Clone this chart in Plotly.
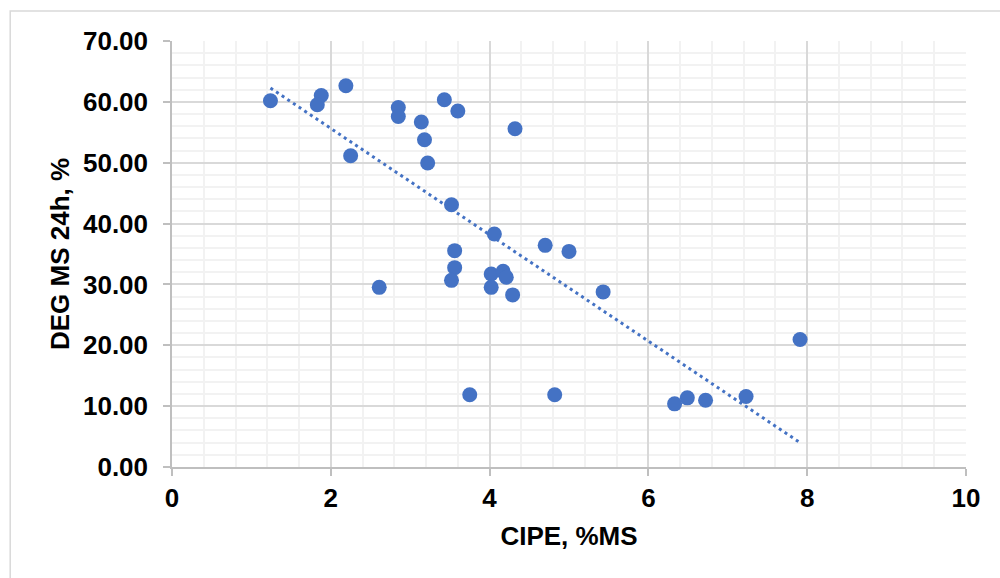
import numpy as np
import plotly.graph_objects as go

cipe = [1.24, 1.88, 1.83, 2.19, 2.25, 2.61, 2.85, 2.85, 3.14, 3.18, 3.22, 3.43,
        3.60, 3.52, 3.56, 3.56, 3.52, 3.75, 4.02, 4.02, 4.06, 4.17, 4.21, 4.29,
        4.32, 4.70, 4.82, 5.00, 5.43, 6.33, 6.49, 6.72, 7.23, 7.91]
deg = [60.18, 61.05, 59.52, 62.64, 51.15, 29.52, 59.08, 57.60, 56.68, 53.78, 49.95, 60.34,
       58.50, 43.10, 35.55, 32.76, 30.67, 11.86, 31.72, 29.52, 38.29, 32.15, 31.17, 28.28,
       55.58, 36.42, 11.86, 35.43, 28.77, 10.38, 11.36, 10.97, 11.58, 20.94]

x_ticks = [0, 2, 4, 6, 8, 10]
y_ticks = [0, 10, 20, 30, 40, 50, 60, 70]
y_tick_labels = ["0.00", "10.00", "20.00", "30.00", "40.00", "50.00", "60.00", "70.00"]

slope, intercept = np.polyfit(cipe, deg, 1)
tx = [min(cipe), max(cipe)]
ty = [slope * v + intercept for v in tx]

BLUE = "#4472C4"
FONT = "Liberation Sans, Arial, sans-serif"

fig = go.Figure()
fig.add_trace(go.Scatter(x=tx, y=ty, mode="lines",
                         line=dict(color=BLUE, width=3, dash="3px,3.8px"),
                         hoverinfo="skip", showlegend=False))
fig.add_trace(go.Scatter(x=cipe, y=deg, mode="markers",
                         marker=dict(color=BLUE, size=15, line=dict(width=0)),
                         showlegend=False))

L, R, T, B = 171.5, 33.5, 41, 110.5
W, H = 1000, 578
pw, ph = W - L - R, H - T - B

def px2paper_x(p):
    return (p - L) / pw

def px2paper_y(p):
    return (H - B - p) / ph

fig.add_shape(type="rect", xref="paper", yref="paper",
              x0=px2paper_x(9.5), x1=px2paper_x(1010), y0=px2paper_y(11), y1=px2paper_y(590),
              line=dict(color="#D9D9D9", width=1.5), fillcolor="rgba(0,0,0,0)", layer="below")

fig.update_layout(
    width=W, height=H,
    margin=dict(l=L, r=R, t=T, b=B, pad=0),
    paper_bgcolor="white", plot_bgcolor="white",
    font=dict(family=FONT, size=26, color="black"),
    xaxis=dict(
        range=[0, 10], tickvals=x_ticks, ticktext=[str(v) for v in x_ticks],
        showgrid=True, gridcolor="#D9D9D9", gridwidth=1.5,
        minor=dict(dtick=0.4, tick0=0, showgrid=True, gridcolor="#F2F2F2", gridwidth=1.5),
        showline=True, linecolor="#BFBFBF", linewidth=1.5,
        ticks="outside", ticklen=7, tickcolor="#BFBFBF", tickwidth=1.5,
        tickfont=dict(family=FONT, size=26, color="black", weight="bold"),
        title=dict(text="<b>CIPE, %MS</b>", font=dict(family=FONT, size=26, color="black"), standoff=15),
        zeroline=False,
    ),
    yaxis=dict(
        range=[0, 70], tickvals=y_ticks, ticktext=y_tick_labels,
        showgrid=True, gridcolor="#D9D9D9", gridwidth=1.5,
        minor=dict(dtick=2, tick0=0, showgrid=True, gridcolor="#F2F2F2", gridwidth=1.5),
        showline=True, linecolor="#BFBFBF", linewidth=1.5,
        ticks="outside", ticklen=7, tickcolor="#BFBFBF", tickwidth=1.5,
        ticklabelstandoff=10,
        tickfont=dict(family=FONT, size=26, color="black", weight="bold"),
        title=dict(text="<b>DEG MS 24h, %</b>", font=dict(family=FONT, size=26, color="black"), standoff=6),
        zeroline=False,
    ),
)

fig.write_html("out.html")
